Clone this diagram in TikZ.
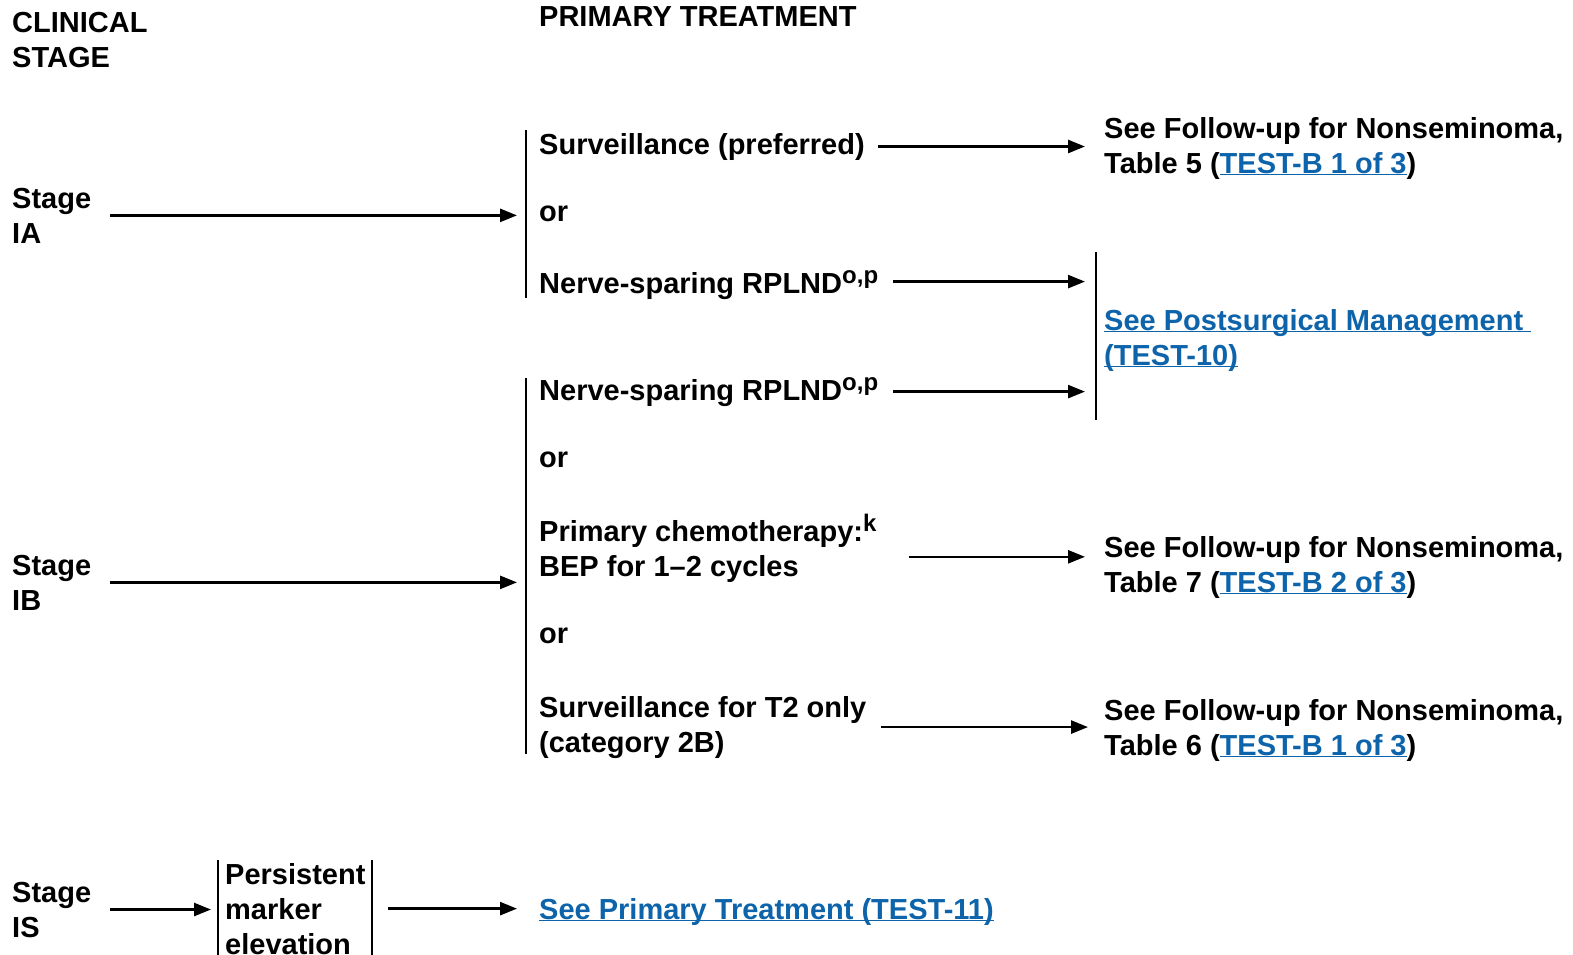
\documentclass[tikz,border=0pt]{standalone}
\usepackage{fontspec}
\setmainfont{Liberation Sans}
\usetikzlibrary{arrows.meta,calc,positioning}
\definecolor{linkblue}{RGB}{14,100,170}
\newcommand{\lnk}[1]{\textcolor{linkblue}{\underline{\smash{#1}}}}
\newcommand{\supx}[1]{\raisebox{10pt}{\fontsize{24}{24}\selectfont #1}}
\tikzset{
  txt/.style={anchor=base west,align=left,inner sep=0pt},
  arr/.style={line width=2.6pt,-{Triangle[length=17pt,width=13pt]}},
  brk/.style={line width=2.6pt},
}
\begin{document}
\begin{tikzpicture}[x=1pt,y=-1pt,font=\fontsize{29}{35}\selectfont\bfseries]
\useasboundingbox (0,0) rectangle (1573,955);
% column heads
\node [txt] (headStage) at (12,68) {CLINICAL\\STAGE};
\node [txt] (headTreat) at (539,27) {PRIMARY TREATMENT};

% stage IA
\node [txt] (stageIA) at (12,243) {Stage\\IA};
\coordinate (brkAtop) at (526,130);
\coordinate (brkAbot) at (526,298);
\draw [brk] (brkAtop) -- (brkAbot);
\draw [arr,shorten >=9pt] ([xshift=19pt]stageIA.east) -- (stageIA.east -| brkAtop);
\node [txt] (survPref) at (539,154) {Surveillance (preferred)};
\node [txt] (orA) at (539,221) {or};
\node [txt] (rplndA) at (539,293) {Nerve-sparing RPLND\supx{o,p}};
\node [txt] (fuTabFive) at (1104,173) {See Follow-up for Nonseminoma,\\Table 5 (\lnk{TEST-B 1 of 3})};
\draw [arr,shorten >=19pt] ([xshift=13pt]survPref.east) -- (survPref.east -| fuTabFive.west);

% postsurgical management
\coordinate (brkRtop) at (1096,252);
\coordinate (brkRbot) at (1096,420);
\draw [brk] (brkRtop) -- (brkRbot);
\node [txt] (postSurg) at (1104,365) {\lnk{See Postsurgical Management\ }\\\lnk{(TEST-10)}};
\draw [arr,shorten >=11pt] ([xshift=15pt,yshift=3pt]rplndA.east) -- ([yshift=3pt]rplndA.east -| brkRtop);

% stage IB
\node [txt] (stageIB) at (12,610) {Stage\\IB};
\coordinate (brkBtop) at (526,378);
\coordinate (brkBbot) at (526,754);
\draw [brk] (brkBtop) -- (brkBbot);
\draw [arr,shorten >=9pt] ([xshift=19pt]stageIB.east) -- (stageIB.east -| brkBtop);
\node [txt] (rplndB) at (539,400) {Nerve-sparing RPLND\supx{o,p}};
\node [txt] (orB) at (539,467) {or};
\node [txt] (chemo) at (539,576) {Primary chemotherapy:\supx{k}\\BEP for 1--2 cycles};
\node [txt] (orC) at (539,643) {or};
\node [txt] (survTwo) at (539,752) {Surveillance for T2 only\\(category 2B)};
\draw [arr,shorten >=11pt] ([xshift=15pt]rplndB.east) -- (rplndB.east -| brkRtop);
\node [txt] (fuTabSeven) at (1104,592) {See Follow-up for Nonseminoma,\\Table 7 (\lnk{TEST-B 2 of 3})};
\node [txt] (fuTabSix) at (1104,755) {See Follow-up for Nonseminoma,\\Table 6 (\lnk{TEST-B 1 of 3})};
\draw [arr,shorten >=19pt] ([xshift=32pt,yshift=-9pt]chemo.east) -- ([yshift=-9pt]chemo.east -| fuTabSeven.west);
\draw [arr,shorten >=16pt] ([xshift=14pt]survTwo.east) -- (survTwo.east -| fuTabSix.west);

% stage IS
\node [txt] (stageIS) at (12,937) {Stage\\IS};
\node [txt] (marker) at (225,954) {Persistent\\marker\\elevation};
\draw [brk] (218,860) -- (218,960);
\draw [brk] (372,860) -- (372,960);
\draw [arr,shorten >=7pt] ([xshift=19pt]stageIS.east) -- (stageIS.east -| 218,0);
\node [txt] (primTreat) at (539,919) {\lnk{See Primary Treatment (TEST-11)}};
\draw [arr,shorten >=22pt] ([xshift=22pt]marker.east) -- (marker.east -| primTreat.west);
\end{tikzpicture}
\end{document}
